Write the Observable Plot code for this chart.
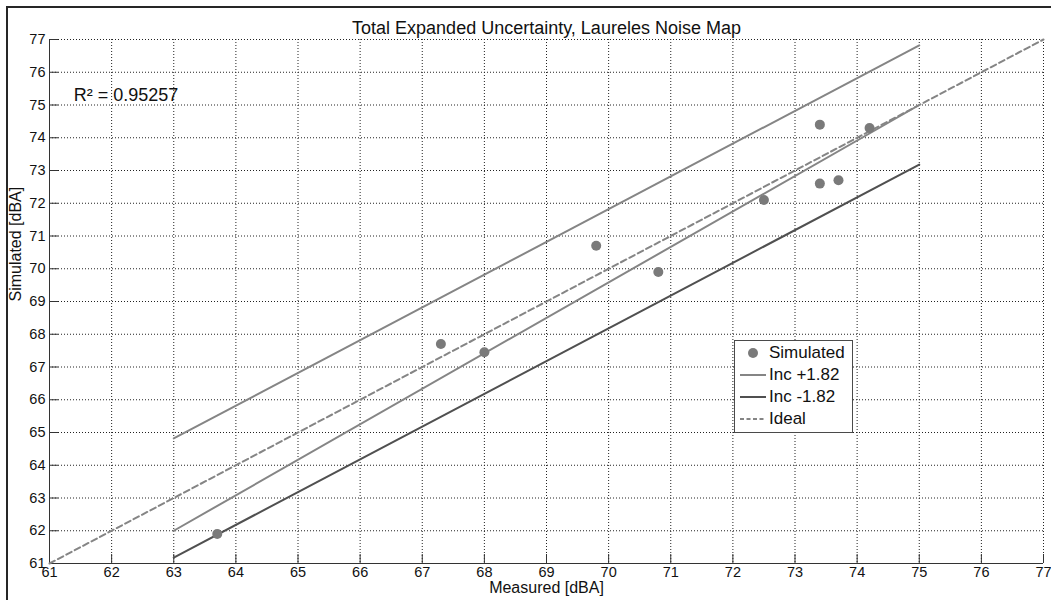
<!DOCTYPE html>
<html><head><meta charset="utf-8">
<script src="https://cdn.jsdelivr.net/npm/d3@7"></script>
<script src="https://cdn.jsdelivr.net/npm/@observablehq/plot@0.6"></script>
<style>
body{margin:0;background:#fff;font-family:"Liberation Sans",Arial,sans-serif;}
#wrap{position:relative;width:1051px;height:600px;overflow:hidden;}
#border{position:absolute;left:6px;top:6px;width:2000px;height:2000px;border-left:2px solid #262626;border-top:2px solid #262626;pointer-events:none;}
#legend{position:absolute;left:734px;top:340px;width:117px;height:90px;border:1px solid #4a4a4a;background:#fff;box-sizing:content-box;padding-top:1px;}
.row{display:flex;align-items:center;height:22px;font-size:17px;color:#111;}
.row svg{margin-left:5px;margin-right:3px;}
</style></head>
<body><div id="wrap"></div>
<script>
const measured  = [63.7, 67.3, 68.0, 69.8, 70.8, 72.5, 73.4, 73.4, 73.7, 74.2];
const simulated = [61.9, 67.7, 67.45, 70.7, 69.9, 72.1, 74.4, 72.6, 72.7, 74.3];
const bandX     = [63, 75];
const incPlusY  = [64.82, 76.82];
const incMinusY = [61.18, 73.18];
const fitY      = [62.0, 75.0];
const idealX    = [61, 77];
const idealY    = [61, 77];
const xTicks = [61,62,63,64,65,66,67,68,69,70,71,72,73,74,75,76,77];
const yTicks = [61,62,63,64,65,66,67,68,69,70,71,72,73,74,75,76,77];
const titleText = "Total Expanded Uncertainty, Laureles Noise Map";
const xLabel = "Measured [dBA]";
const yLabel = "Simulated [dBA]";
const r2Text = "R² = 0.95257";
const r2Pos = [61.39, 75.3];
const legendLabels = ["Simulated", "Inc +1.82", "Inc -1.82", "Ideal"];

const pts = measured.map((m, i) => ({x: m, y: simulated[i]}));
const mk = (xs, ys) => xs.map((x, i) => ({x, y: ys[i]}));
const incPlus = mk(bandX, incPlusY);
const incMinus = mk(bandX, incMinusY);
const fit = mk(bandX, fitY);
const ideal = mk(idealX, idealY);

const W = 1051, H = 600, ML = 49, MR = 8, MT = 39, MB = 37;
const frameW = W - ML - MR, frameH = H - MT - MB, tickLen = 9;

const chart = Plot.plot({
  width: W, height: H,
  marginLeft: ML, marginRight: MR, marginTop: MT, marginBottom: MB,
  style: {fontFamily: '"Liberation Sans", Arial, sans-serif', fontSize: "14.5px", color: "#111", background: "transparent"},
  x: {domain: [61, 77]},
  y: {domain: [61, 77]},
  marks: [
    Plot.gridX(xTicks, {stroke: "#222", strokeOpacity: 1, strokeDasharray: "1,2"}),
    Plot.gridY(yTicks, {stroke: "#222", strokeOpacity: 1, strokeDasharray: "1,2"}),
    Plot.ruleX([61], {stroke: "#333"}),
    Plot.ruleY([61], {stroke: "#333"}),
    Plot.tickX(xTicks, {x: d => d, insetTop: frameH - tickLen, stroke: "#333"}),
    Plot.tickY(yTicks, {y: d => d, insetRight: frameW - tickLen, stroke: "#333"}),
    Plot.axisX({ticks: xTicks, tickSize: 0, tickPadding: 3, fontSize: 14.5, label: null}),
    Plot.axisY({ticks: yTicks, tickSize: 0, tickPadding: 4, fontSize: 14.5, label: null}),
    Plot.line(ideal, {x: "x", y: "y", stroke: "#858585", strokeWidth: 2, strokeDasharray: "6,3.5"}),
    Plot.line(incPlus, {x: "x", y: "y", stroke: "#858585", strokeWidth: 2}),
    Plot.line(fit, {x: "x", y: "y", stroke: "#858585", strokeWidth: 2}),
    Plot.line(incMinus, {x: "x", y: "y", stroke: "#505050", strokeWidth: 2}),
    Plot.dot(pts, {x: "x", y: "y", r: 5, fill: "#7a7a7a", stroke: null}),
    Plot.text([r2Text], {x: r2Pos[0], y: r2Pos[1], textAnchor: "start", fontSize: 18, fill: "#111"}),
    Plot.text([titleText], {frameAnchor: "top", dy: -18, fontSize: 18, fill: "#111"}),
    Plot.text([xLabel], {frameAnchor: "bottom", dy: 29, fontSize: 16, fill: "#111"}),
    Plot.text([yLabel], {frameAnchor: "left", dx: -34, rotate: -90, fontSize: 16, fill: "#111"})
  ]
});

const wrap = document.getElementById("wrap");
wrap.appendChild(chart);
const border = document.createElement("div");
border.id = "border";
wrap.appendChild(border);

const legend = document.createElement("div");
legend.id = "legend";
const swatches = [
  '<circle cx="13" cy="5" r="5" fill="#7a7a7a"/>',
  '<line x1="0" y1="5" x2="26" y2="5" stroke="#858585" stroke-width="2"/>',
  '<line x1="0" y1="5" x2="26" y2="5" stroke="#505050" stroke-width="2"/>',
  '<line x1="0" y1="5" x2="26" y2="5" stroke="#858585" stroke-width="2" stroke-dasharray="4,2.5"/>'
];
legendLabels.forEach((lab, i) => {
  const row = document.createElement("div");
  row.className = "row";
  row.innerHTML = `<svg width="26" height="10">${swatches[i]}</svg><span>${lab}</span>`;
  legend.appendChild(row);
});
wrap.appendChild(legend);
</script>
</body></html>
